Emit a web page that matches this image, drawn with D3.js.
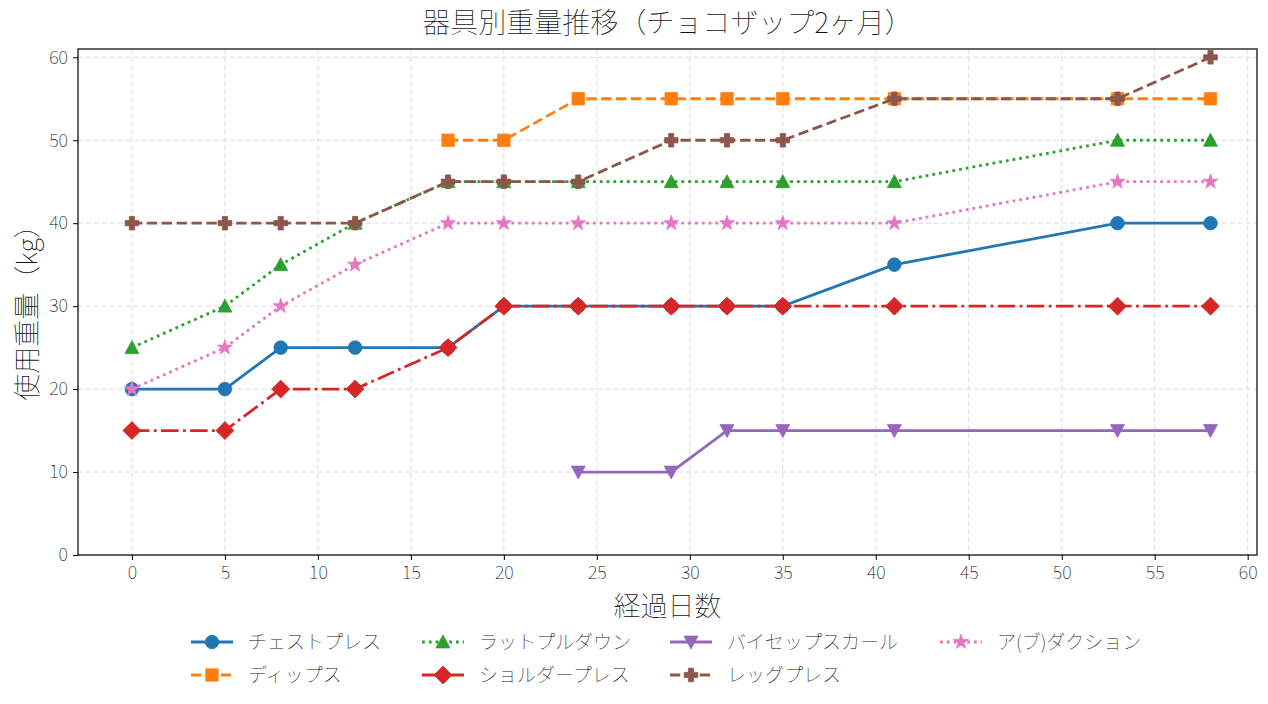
<!DOCTYPE html>
<html><head><meta charset="utf-8">
<script src="https://cdn.jsdelivr.net/npm/d3@7"></script>
<style>
body{margin:0;background:#fff;}
svg text{font-family:"Noto Sans CJK JP","Noto Sans",sans-serif;font-weight:100;fill:#111;}
</style></head><body>
<svg id="c" width="1268" height="704"></svg>
<script>
const title = "器具別重量推移（チョコザップ2ヶ月）";
const xLabel = "経過日数";
const yLabel = "使用重量（kg）";
const xTicks = [0,5,10,15,20,25,30,35,40,45,50,55,60];
const yTicks = [0,10,20,30,40,50,60];

const chestDays = [0,5,8,12,17,20,24,29,32,35,41,53,58];
const chestVals = [20,20,25,25,25,30,30,30,30,30,35,40,40];
const dipsDays = [17,20,24,29,32,35,41,53,58];
const dipsVals = [50,50,55,55,55,55,55,55,55];
const latDays = [0,5,8,12,17,20,24,29,32,35,41,53,58];
const latVals = [25,30,35,40,45,45,45,45,45,45,45,50,50];
const shoulderDays = [0,5,8,12,17,20,24,29,32,35,41,53,58];
const shoulderVals = [15,15,20,20,25,30,30,30,30,30,30,30,30];
const bicepDays = [24,29,32,35,41,53,58];
const bicepVals = [10,10,15,15,15,15,15];
const legDays = [0,5,8,12,17,20,24,29,32,35,41,53,58];
const legVals = [40,40,40,40,45,45,45,50,50,50,55,55,60];
const abdDays = [0,5,8,12,17,20,24,29,32,35,41,53,58];
const abdVals = [20,25,30,35,40,40,40,40,40,40,40,45,45];

const seriesNames = ["チェストプレス","ディップス","ラットプルダウン","ショルダープレス","バイセップスカール","レッグプレス","ア(ブ)ダクション"];
const seriesDays = [chestDays,dipsDays,latDays,shoulderDays,bicepDays,legDays,abdDays];
const seriesVals = [chestVals,dipsVals,latVals,shoulderVals,bicepVals,legVals,abdVals];
const colors = ["#1f77b4","#ff7f0e","#2ca02c","#d62728","#9467bd","#8c564b","#e377c2"];
const dashes = [null,"10.3,4.6","2.8,4","17.5,4.4,2.8,4.4",null,"10.3,4.6","2.8,4"];
const markers = ["circle","square","triup","diamond","tridown","plus","star"];

const svg = d3.select("#c");
const L=78,R=1257,T=49,B=555;
const x = d3.scaleLinear().domain([-2.9,60.5]).range([L,R]);
const y = d3.scaleLinear().domain([0,61]).range([B,T]);

// grid
const g = svg.append("g");
g.selectAll(".gx").data(xTicks).enter().append("line")
  .attr("x1",d=>x(d)).attr("x2",d=>x(d)).attr("y1",T).attr("y2",B)
  .attr("stroke","#dcdcdc").attr("stroke-width",1).attr("stroke-dasharray","5,3");
g.selectAll(".gy").data(yTicks).enter().append("line")
  .attr("y1",d=>y(d)).attr("y2",d=>y(d)).attr("x1",L).attr("x2",R)
  .attr("stroke","#dcdcdc").attr("stroke-width",1).attr("stroke-dasharray","5,3");

// axes
const xa = svg.append("g").attr("transform",`translate(0,${B})`)
  .call(d3.axisBottom(x).tickValues(xTicks).tickSize(5).tickPadding(6).tickFormat(d3.format("d")));
const ya = svg.append("g").attr("transform",`translate(${L},0)`)
  .call(d3.axisLeft(y).tickValues(yTicks).tickSize(5).tickPadding(5).tickFormat(d3.format("d")));
[xa,ya].forEach(a=>{a.select(".domain").remove();
  a.selectAll("text").style("font-size","18px").attr("fill","#111").style("font-family",'"Noto Sans CJK JP",sans-serif').style("font-weight","100");
  a.selectAll("line").attr("stroke","#000");});
xa.selectAll("text").attr("dy","0.72em");

function markerPath(type){
  switch(type){
    case "circle": return d3.symbol(d3.symbolCircle, Math.PI*6.8*6.8)();
    case "square": { const h=6.2; return `M${-h},${-h}H${h}V${h}H${-h}Z`; }
    case "triup": { const h=7; return `M0,${-h}L${h},${h*0.85}L${-h},${h*0.85}Z`; }
    case "tridown": { const h=7; return `M0,${h}L${h},${-h*0.85}L${-h},${-h*0.85}Z`; }
    case "diamond": { const h=9; return `M0,${-h}L${h},0L0,${h}L${-h},0Z`; }
    case "plus": { const a=6.8, b=2.6; return `M${-b},${-a}H${b}V${-b}H${a}V${b}H${b}V${a}H${-b}V${b}H${-a}V${-b}H${-b}Z`; }
    case "star": return d3.symbol(d3.symbolStar, 70)();
  }
}

const line = d3.line().x(d=>x(d[0])).y(d=>y(d[1]));
const plot = svg.append("g");
seriesNames.forEach((name,i)=>{
  const pts = seriesDays[i].map((d,j)=>[d,seriesVals[i][j]]);
  const sg = plot.append("g");
  sg.append("path").attr("d",line(pts)).attr("fill","none").attr("stroke",colors[i])
    .attr("stroke-width",2.8).attr("stroke-dasharray",dashes[i]);
  sg.selectAll("path.m").data(pts).enter().append("path").attr("class","m")
    .attr("transform",d=>`translate(${x(d[0])},${y(d[1])})`)
    .attr("d",markerPath(markers[i])).attr("fill",colors[i]).attr("stroke",colors[i]).attr("stroke-width",0.8);
});

// frame
svg.append("rect").attr("x",L).attr("y",T).attr("width",R-L).attr("height",B-T)
  .attr("fill","none").attr("stroke","#000").attr("stroke-width",1.2);

// title & labels
svg.append("text").attr("x",(L+R)/2).attr("y",33).attr("text-anchor","middle")
  .style("font-size","28px").text(title);
svg.append("text").attr("x",(L+R)/2).attr("y",616).attr("text-anchor","middle")
  .style("font-size","27px").text(xLabel);
svg.append("text").attr("transform",`translate(37,${(T+B)/2+4}) rotate(-90)`).attr("text-anchor","middle")
  .style("font-size","27px").text(yLabel);

// legend (column-major, 4 columns)
const colX = [191,422,670,940];
const rowY = [642,675];
const leg = svg.append("g");
seriesNames.forEach((name,i)=>{
  const c = Math.floor(i/2), r = i%2;
  const lx = colX[c], ly = rowY[r];
  const lg = leg.append("g");
  lg.append("line").attr("x1",lx).attr("x2",lx+42).attr("y1",ly).attr("y2",ly)
    .attr("stroke",colors[i]).attr("stroke-width",2.8).attr("stroke-dasharray",dashes[i]);
  lg.append("path").attr("transform",`translate(${lx+21},${ly})`).attr("d",markerPath(markers[i]))
    .attr("fill",colors[i]).attr("stroke",colors[i]).attr("stroke-width",0.8);
  lg.append("text").attr("x",lx+57).attr("y",ly).attr("dy","0.35em").style("font-size","19px").text(name);
});
</script></body></html>
